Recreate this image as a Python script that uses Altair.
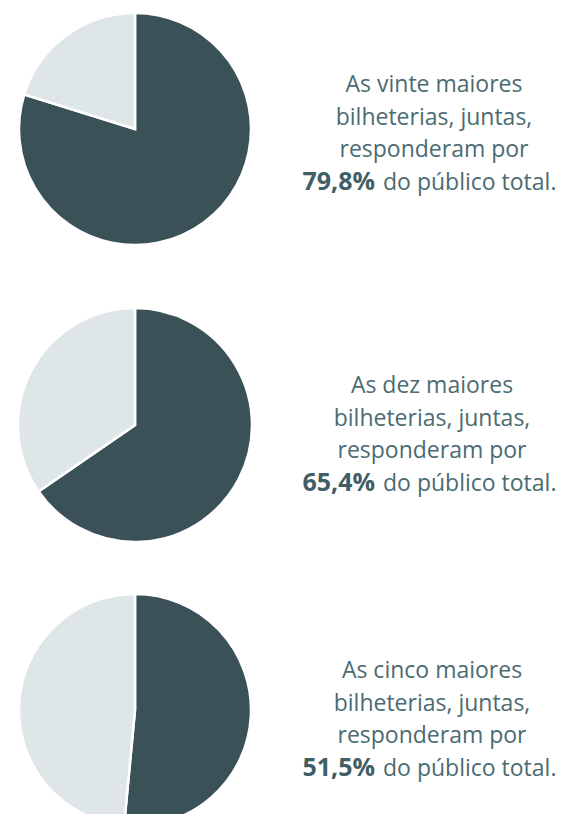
import altair as alt
import pandas as pd

# ---- data ----
shares = [79.8, 65.4, 51.5]
line1 = ["As vinte maiores", "As dez maiores", "As cinco maiores"]
line2 = ["bilheterias, juntas,", "bilheterias, juntas,", "bilheterias, juntas,"]
line3 = ["responderam por", "responderam por", "responderam por"]
pct_labels = ["79,8%", "65,4%", "51,5%"]
tail = ["do público total.", "do público total.", "do público total."]
parts = ["share", "rest"]

DARK = "#3A5257"
LIGHT = "#DFE6E8"
TEXT = "#4B6B71"
BOLD = "#3F5E65"
FONT = "Open Sans"
FS = 23
FSB = 25

# ---- layout (plot coordinates) ----
pie_cx = [127, 127, 127]
pie_cy = [121, 417, 702]
pie_r = [116, 117, 116]
text_cx = [426, 424, 424]
baselines = [[84, 117, 149, 182], [385, 418, 450, 483], [670, 703, 735, 768]]
bold_end = [367, 367, 367]
reg_start = [375, 375, 375]

layers = []
for i, s in enumerate(shares):
    df = pd.DataFrame({"part": parts, "value": [s, round(100 - s, 1)], "ord": [1, 2]})
    arc = alt.Chart(df).mark_arc(radius=pie_r[i], stroke="white", strokeWidth=2.5).encode(
        theta=alt.Theta("value:Q", stack=True, scale=alt.Scale(domain=[0, 100])),
        order=alt.Order("ord:Q"),
        color=alt.Color("part:N", scale=alt.Scale(domain=parts, range=[DARK, LIGHT]), legend=None),
        x=alt.value(pie_cx[i]),
        y=alt.value(pie_cy[i]),
    )
    layers.append(arc)
    for j, txt in enumerate([line1[i], line2[i], line3[i]]):
        t = alt.Chart(pd.DataFrame({"t": [txt]})).mark_text(
            font=FONT, fontSize=FS, color=TEXT, align="center", baseline="alphabetic"
        ).encode(text="t:N", x=alt.value(text_cx[i]), y=alt.value(baselines[i][j]))
        layers.append(t)
    b = alt.Chart(pd.DataFrame({"t": [pct_labels[i]]})).mark_text(
        font=FONT, fontSize=FSB, fontWeight="bold", color=BOLD, align="right", baseline="alphabetic"
    ).encode(text="t:N", x=alt.value(bold_end[i]), y=alt.value(baselines[i][3]))
    r = alt.Chart(pd.DataFrame({"t": [tail[i]]})).mark_text(
        font=FONT, fontSize=FS, color=TEXT, align="left", baseline="alphabetic"
    ).encode(text="t:N", x=alt.value(reg_start[i]), y=alt.value(baselines[i][3]))
    layers += [b, r]

chart = alt.layer(*layers).properties(
    width=548, height=806, padding=0,
    autosize=alt.AutoSizeParams(type="none"),
).configure_view(stroke=None)

chart.save("out.html", embed_options={"renderer": "svg", "actions": False})
